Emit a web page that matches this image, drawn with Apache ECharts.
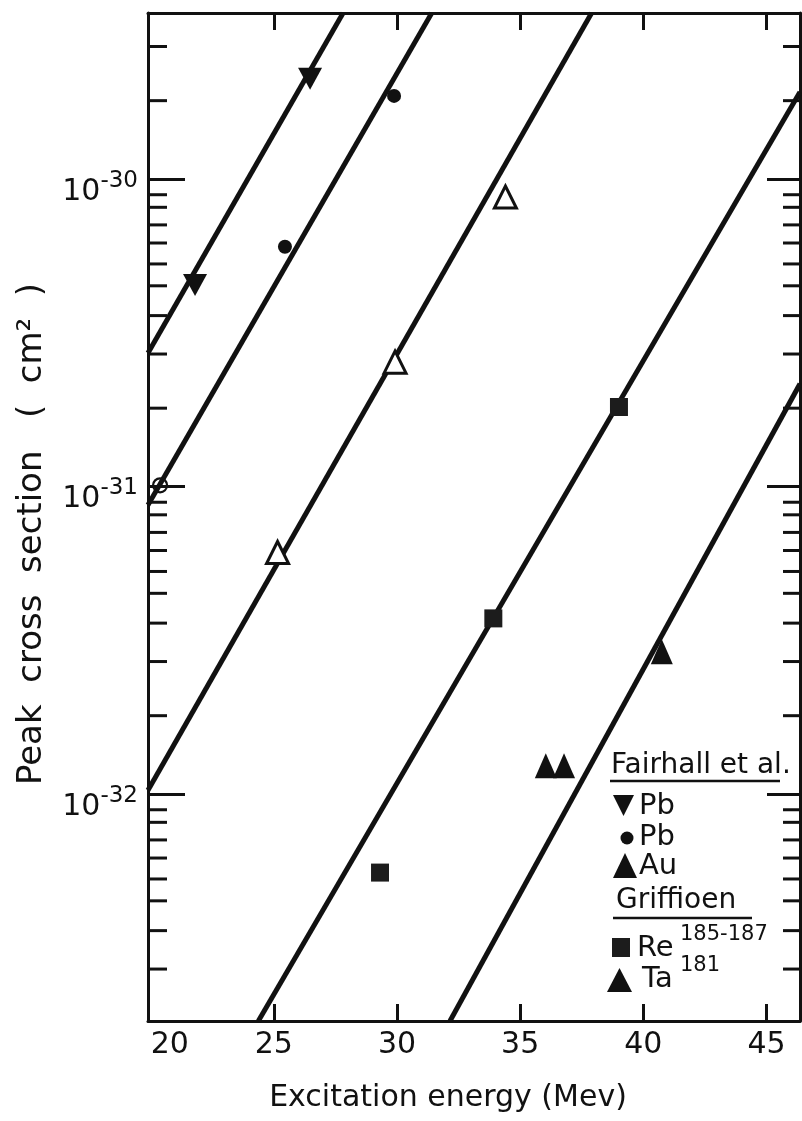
<!DOCTYPE html>
<html>
<head>
<meta charset="utf-8">
<script src="https://cdn.jsdelivr.net/npm/echarts@6/dist/echarts.min.js"></script>
<style>
  html, body { margin: 0; padding: 0; background: #fff; }
  #chart { width: 802px; height: 1121px; }
</style>
</head>
<body>
<div id="chart"></div>
<script>
// Excitation energy axis (MeV)
const energyRange = [19.89, 46.36];
const energyLabels = [20, 25, 30, 35, 40, 45];
const energyTicks = [25, 30, 35, 40, 45];

// Peak cross section axis (cm^2), logarithmic
const sigmaRange = [1.83e-33, 3.47e-30];
const minorSteps = [8.9, 8.1, 7.1, 6.2, 5.3, 4.5, 3.6, 2.7, 1.8];
const minorDecades = [1e-33, 1e-32, 1e-31, 1e-30];

// Fairhall et al. : [energy, peak cross section]
const pbDown = [[21.80, 4.53e-31], [26.47, 2.12e-30]];
const pbDot = [[20.38, 1.01e-31], [25.45, 6.03e-31], [29.88, 1.865e-30]];
const auOpen = [[25.15, 6.11e-32], [29.92, 2.54e-31], [34.40, 8.75e-31]];
// Griffioen
const re185 = [[29.31, 5.56e-33], [33.91, 3.73e-32], [39.01, 1.816e-31]];
const ta181 = [[36.04, 1.237e-32], [36.78, 1.237e-32], [40.75, 2.905e-32]];

// Straight lines drawn through each group, ends on the frame
const fitPbDown = [[19.89, 2.72e-31], [27.81, 3.47e-30]];
const fitPbDot = [[19.89, 8.72e-32], [31.41, 3.47e-30]];
const fitAu = [[19.89, 1.03e-32], [37.90, 3.47e-30]];
const fitRe = [[24.37, 1.83e-33], [46.36, 1.92e-30]];
const fitTa = [[32.15, 1.83e-33], [46.36, 2.16e-31]];

// Legend text
const groupTitles = ['Fairhall et al.', 'Griffioen'];
const seriesNames = ['Pb', 'Pb', 'Au', 'Re', 'Ta'];
const isotopeMarks = ['', '', '', '185-187', '181'];
const xTitle = 'Excitation energy (Mev)';
const yTitle = 'Peak  cross  section   (  cm\u00B2  )';

const INK = '#111';
const FONT = '"DejaVu Sans", sans-serif';

const minorTicks = [];
minorDecades.forEach(d => minorSteps.forEach(s => {
  const v = s * d;
  if (v > sigmaRange[0] && v < sigmaRange[1]) minorTicks.push(v);
}));

const chart = echarts.init(document.getElementById('chart'), null, { renderer: 'canvas' });

function yAxisBase(position) {
  return {
    type: 'log', logBase: 10, position: position,
    min: sigmaRange[0], max: sigmaRange[1],
    splitLine: { show: false }, minorTick: { show: false }, minorSplitLine: { show: false },
    axisLine: { show: true, onZero: false, lineStyle: { color: INK, width: 3 } },
    axisTick: { show: true, inside: true, length: position === 'left' ? 37 : 33, lineStyle: { color: INK, width: 3 } },
    axisLabel: { show: false }
  };
}
function xAxisBase(position) {
  return {
    type: 'value', position: position,
    min: energyRange[0], max: energyRange[1],
    splitLine: { show: false },
    axisLine: { show: true, onZero: false, lineStyle: { color: INK, width: 3 } },
    axisTick: { show: true, inside: true, length: 17, customValues: energyTicks, lineStyle: { color: INK, width: 3 } },
    axisLabel: { show: false }
  };
}

const xBottom = xAxisBase('bottom');
xBottom.axisLabel = {
  show: true, customValues: energyLabels, margin: 9, alignMinLabel: 'left',
  fontSize: 30, fontFamily: FONT, color: INK, lineHeight: 30
};
const xTop = xAxisBase('top');

// decade ticks and labels come from the log axis itself
const yLeft = yAxisBase('left');
yLeft.axisLabel = {
  show: true, showMinLabel: false, showMaxLabel: false, margin: 10, padding: [26, 0, 0, 0],
  formatter: v => '{b|10}{e|' + Math.round(Math.log10(v)) + '}',
  rich: {
    b: { fontSize: 30, fontFamily: FONT, color: INK, lineHeight: 46 },
    e: { fontSize: 23, fontFamily: FONT, color: INK, lineHeight: 23, verticalAlign: 'top' }
  }
};
const yRight = yAxisBase('right');

function fitLine(data) {
  return {
    type: 'line', data: data, xAxisIndex: 0, yAxisIndex: 0,
    symbol: 'none', silent: true, z: 2, clip: true,
    lineStyle: { color: INK, width: 5 }
  };
}
function points(name, data, symbol, size, style, extra) {
  return Object.assign({
    type: 'scatter', name: name, data: data, xAxisIndex: 0, yAxisIndex: 0,
    symbol: symbol, symbolSize: size, z: 3, itemStyle: Object.assign({ opacity: 1 }, style)
  }, extra || {});
}

// short inward ticks inside each decade, on both sides of the frame
const minorTickSeries = {
  type: 'custom', xAxisIndex: 0, yAxisIndex: 0, silent: true, z: 4, clip: false,
  data: minorTicks.map(v => [energyRange[0], v]),
  renderItem: (params, api) => {
    const v = api.value(1);
    const l = api.coord([energyRange[0], v]);
    const r = api.coord([energyRange[1], v]);
    const st = { stroke: INK, lineWidth: 3 };
    return {
      type: 'group',
      children: [
        { type: 'line', shape: { x1: l[0], y1: l[1], x2: l[0] + 19, y2: l[1] }, style: st },
        { type: 'line', shape: { x1: r[0] - 17, y1: r[1], x2: r[0], y2: r[1] }, style: st }
      ]
    };
  }
};

const dotData = pbDot.map((p, i) => i === 0
  ? { value: p, symbolSize: 14, itemStyle: { color: 'rgba(0,0,0,0)', borderColor: INK, borderWidth: 2.2, opacity: 1 } }
  : { value: p });

const series = [
  fitLine(fitPbDown), fitLine(fitPbDot), fitLine(fitAu), fitLine(fitRe), fitLine(fitTa),
  points(seriesNames[0], pbDown, 'triangle', [24, 22], { color: INK }, { symbolRotate: 180 }),
  points(seriesNames[1], dotData, 'circle', 14, { color: INK }),
  points(seriesNames[2], auOpen, 'triangle', [22, 22], { color: '#fff', borderColor: INK, borderWidth: 3 }),
  points(seriesNames[3], re185, 'rect', [18, 18], { color: '#1c1c1c' }),
  points(seriesNames[4], ta181, 'triangle', [22, 25], { color: INK }),
  minorTickSeries
];

function txt(x, y, text, size, extra) {
  return Object.assign({
    type: 'text', x: x, y: y, silent: true,
    style: { text: text, font: size + 'px ' + FONT, fill: INK, align: 'left', verticalAlign: 'middle' }
  }, extra || {});
}

const graphic = [
  // axis titles
  txt(448, 1098, xTitle, 30, { style: { text: xTitle, font: '30px ' + FONT, fill: INK, align: 'center', verticalAlign: 'middle' } }),
  txt(32, 534, yTitle, 34, { rotation: Math.PI / 2, style: { text: yTitle, font: '34px ' + FONT, fill: INK, align: 'center', verticalAlign: 'middle' } }),
  // legend: Fairhall et al.
  txt(611, 766, groupTitles[0], 28),
  { type: 'line', silent: true, shape: { x1: 610, y1: 781, x2: 780, y2: 781 }, style: { stroke: INK, lineWidth: 2.5 } },
  { type: 'polygon', silent: true, shape: { points: [[613, 795], [634, 795], [623.5, 816]] }, style: { fill: INK } },
  txt(639, 806, seriesNames[0], 29),
  { type: 'circle', silent: true, shape: { cx: 627, cy: 838, r: 6.5 }, style: { fill: INK } },
  txt(639, 837, seriesNames[1], 29),
  { type: 'polygon', silent: true, shape: { points: [[613, 878], [637, 878], [625, 853]] }, style: { fill: INK } },
  txt(639, 866, seriesNames[2], 29),
  // legend: Griffioen
  txt(616, 901, groupTitles[1], 28),
  { type: 'line', silent: true, shape: { x1: 613, y1: 918, x2: 752, y2: 918 }, style: { stroke: INK, lineWidth: 2.5 } },
  { type: 'rect', silent: true, shape: { x: 612, y: 938, width: 18, height: 19 }, style: { fill: '#1c1c1c' } },
  txt(637, 948, seriesNames[3], 29),
  txt(680, 935, isotopeMarks[3], 21),
  { type: 'polygon', silent: true, shape: { points: [[607, 992], [632, 992], [619.5, 968]] }, style: { fill: INK } },
  txt(642, 979, seriesNames[4], 29),
  txt(680, 966, isotopeMarks[4], 21)
];

chart.setOption({
  animation: false,
  backgroundColor: '#fff',
  grid: { left: 148, right: 2, top: 13, bottom: 100, containLabel: false },
  xAxis: [xBottom, xTop],
  yAxis: [yLeft, yRight],
  series: series,
  graphic: graphic
});
</script>
</body>
</html>
